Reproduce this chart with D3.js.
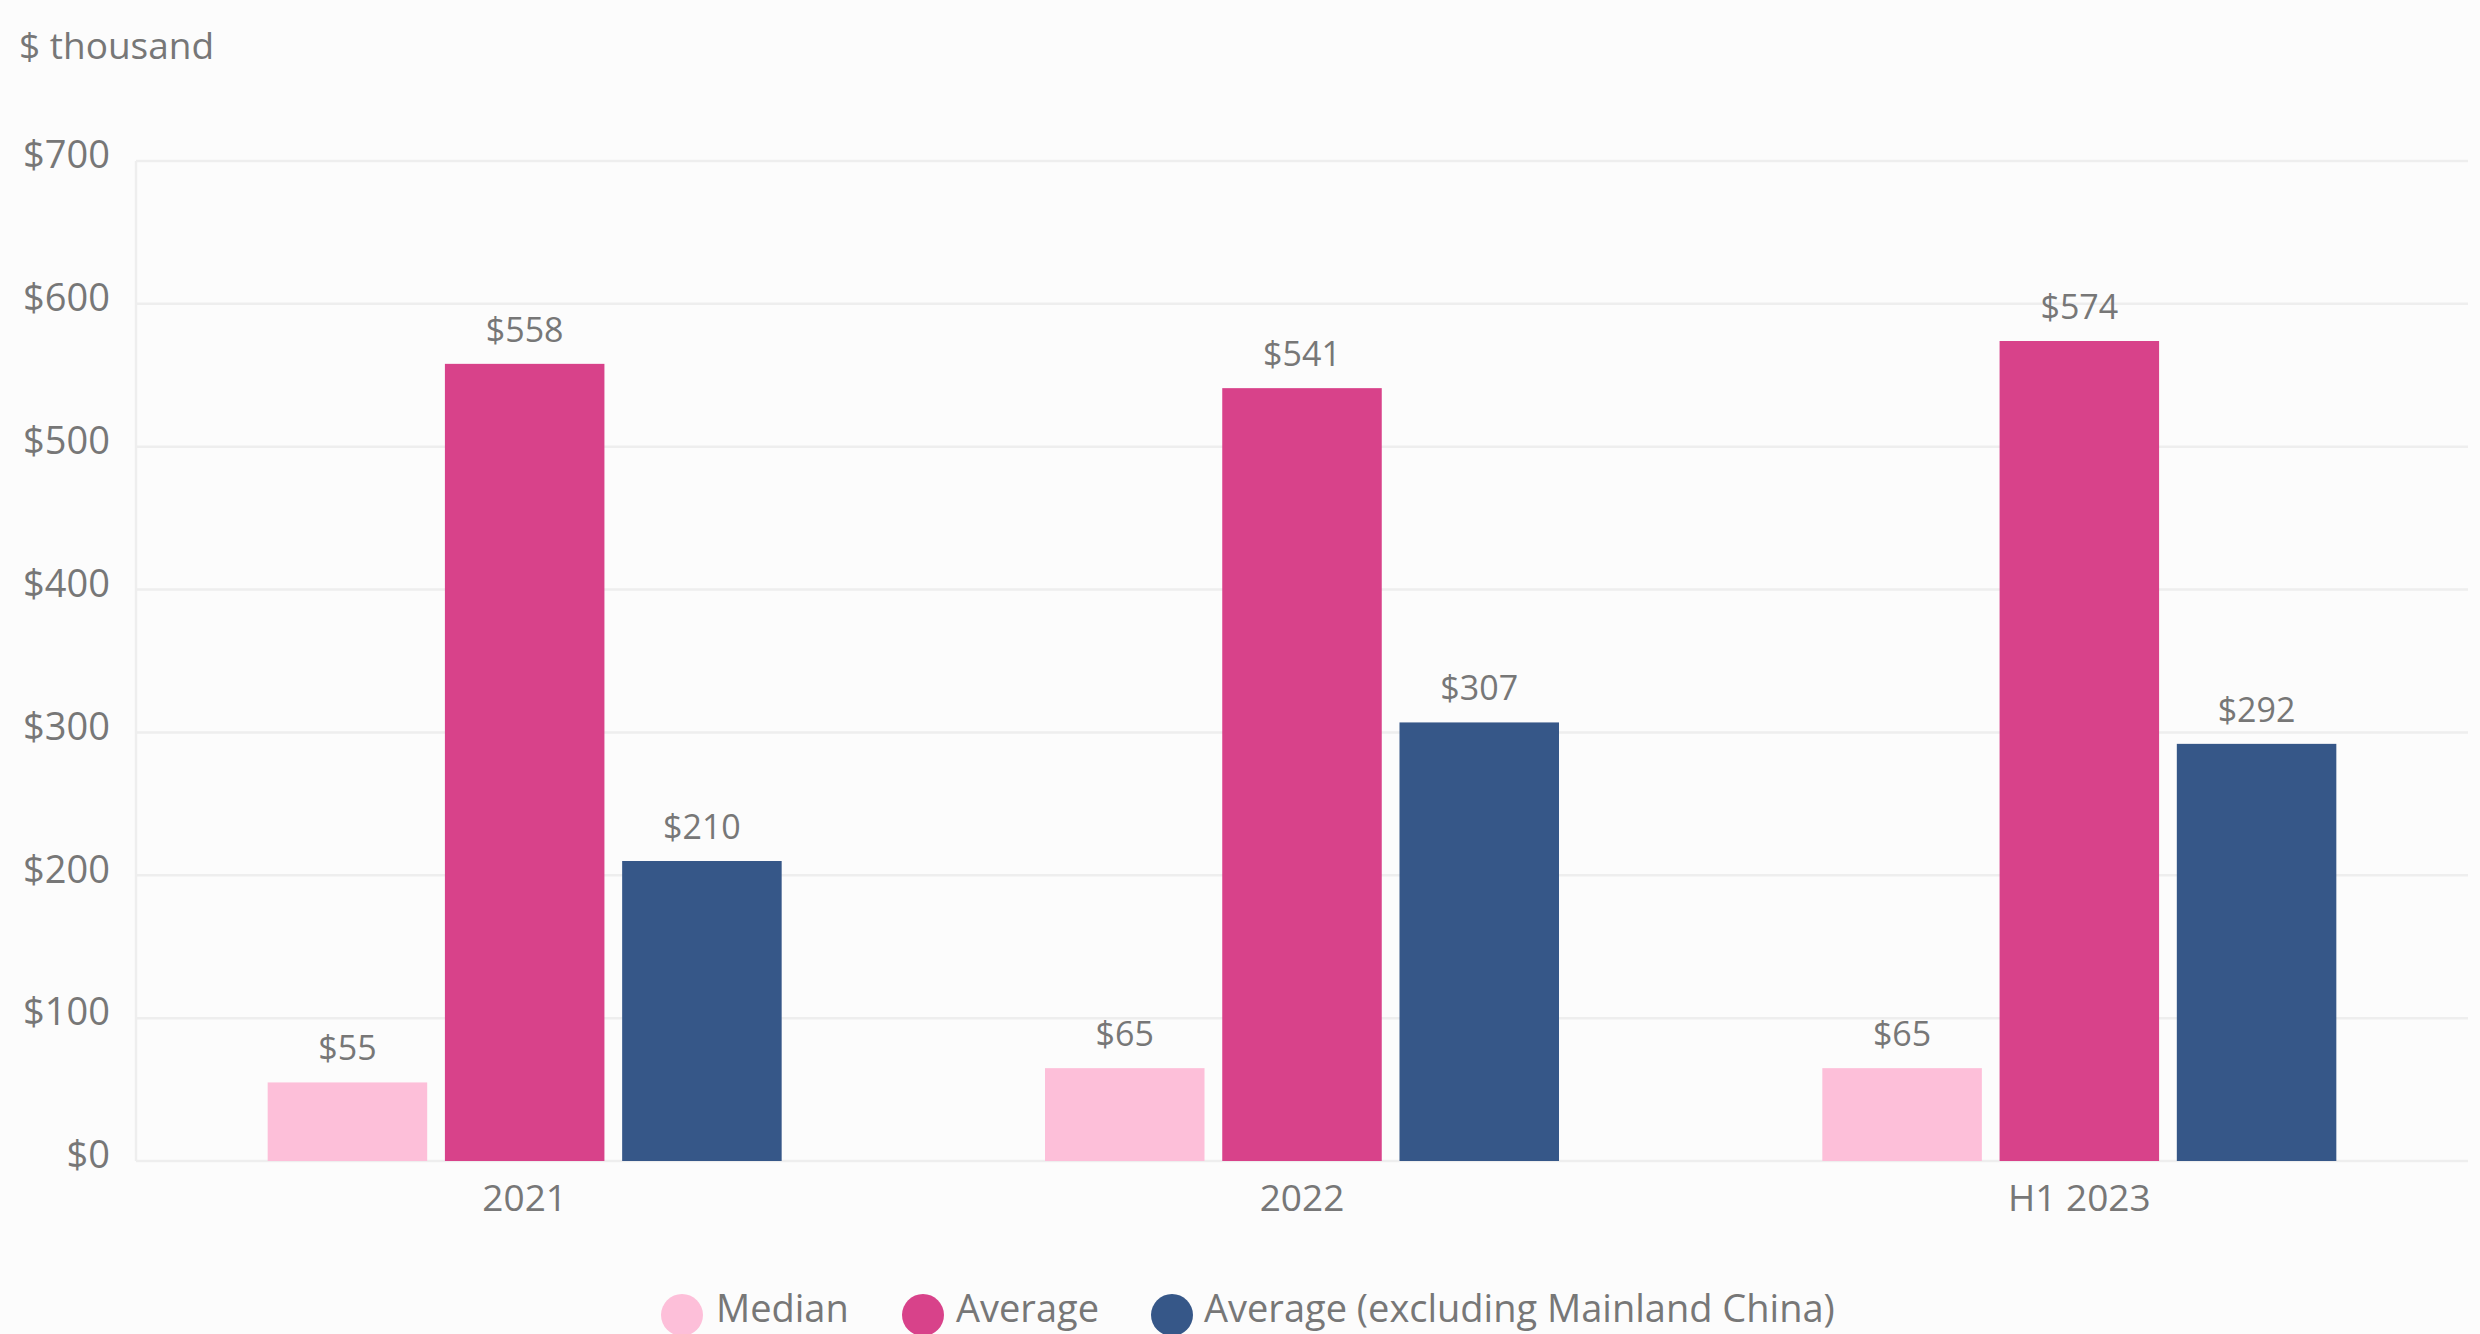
<!DOCTYPE html>
<html>
<head>
<meta charset="utf-8">
<script src="https://cdn.jsdelivr.net/npm/d3@7"></script>
<style>
  html, body { margin: 0; padding: 0; background: #fcfcfc; }
  svg { display: block; }
  text { font-family: "Open Sans", "Noto Sans", sans-serif; fill: #777777; }
</style>
</head>
<body>
<script>
const categories = ["2021", "2022", "H1 2023"];
const seriesNames = ["Median", "Average", "Average (excluding Mainland China)"];
const medianValues = [55, 65, 65];
const averageValues = [558, 541, 574];
const averageExChinaValues = [210, 307, 292];
const yTicks = [0, 100, 200, 300, 400, 500, 600, 700];
const colors = ["#fdbfd9", "#d8428a", "#365788"];
const unitLabel = "$ thousand";

const seriesValues = [medianValues, averageValues, averageExChinaValues];
const data = categories.map((c, i) => ({
  category: c,
  values: seriesNames.map((s, j) => ({ series: s, value: seriesValues[j][i] }))
}));

const W = 2480, H = 1334;
const plotLeft = 136, plotRight = 2468, plotTop = 161, plotBottom = 1161;

const svg = d3.select("body").append("svg").attr("width", W).attr("height", H);
svg.append("rect").attr("width", W).attr("height", H).attr("fill", "#fcfcfc");

const y = d3.scaleLinear().domain([0, 700]).range([plotBottom, plotTop]);
const x0 = d3.scaleBand().domain(categories).range([plotLeft, plotRight]).padding(0);
const bw = x0.bandwidth();
const groupW = 514;
const x1 = d3.scaleBand().domain(seriesNames)
  .range([(bw - groupW) / 2, (bw + groupW) / 2]).paddingInner(0.1).paddingOuter(0);
const color = d3.scaleOrdinal().domain(seriesNames).range(colors);

// gridlines
svg.append("g").selectAll("line").data(yTicks).join("line")
  .attr("x1", plotLeft).attr("x2", plotRight)
  .attr("y1", d => y(d)).attr("y2", d => y(d))
  .attr("stroke", "#eeeeee").attr("stroke-width", 2.5);
// left axis line
svg.append("line").attr("x1", plotLeft).attr("x2", plotLeft).attr("y1", plotTop).attr("y2", plotBottom)
  .attr("stroke", "#eeeeee").attr("stroke-width", 2.5);

// y axis labels
const yAxis = d3.axisLeft(y).tickValues(yTicks).tickSize(0).tickPadding(0)
  .tickFormat(d => "$" + d);
const gy = svg.append("g").attr("transform", `translate(110,0)`).call(yAxis);
gy.select(".domain").remove();
gy.selectAll("text").attr("font-size", 38).attr("fill", "#777")
  .attr("font-family", '"Open Sans", sans-serif').attr("dy", "0.18em").attr("x", 0);

// unit label
svg.append("text").attr("x", 19).attr("y", 59).attr("font-size", 37).text(unitLabel);

// bars
const groups = svg.append("g").selectAll("g").data(data).join("g")
  .attr("transform", d => `translate(${x0(d.category)},0)`);
groups.selectAll("rect").data(d => d.values).join("rect")
  .attr("x", d => x1(d.series)).attr("width", x1.bandwidth())
  .attr("y", d => y(d.value)).attr("height", d => y(0) - y(d.value))
  .attr("fill", d => color(d.series));
groups.selectAll("text.val").data(d => d.values).join("text").attr("class", "val")
  .attr("x", d => x1(d.series) + x1.bandwidth() / 2)
  .attr("y", d => y(d.value) - 22)
  .attr("text-anchor", "middle").attr("font-size", 34)
  .text(d => "$" + d.value);

// x axis labels
const xAxis = d3.axisBottom(x0).tickSize(0).tickPadding(0);
const gx = svg.append("g").attr("transform", `translate(0,${plotBottom})`).call(xAxis);
gx.select(".domain").remove();
gx.selectAll("text").attr("font-size", 37).attr("fill", "#777")
  .attr("font-family", '"Open Sans", sans-serif').attr("dy", null).attr("y", 50);

// legend
const legendItems = [
  { name: seriesNames[0], cx: 682, tx: 716 },
  { name: seriesNames[1], cx: 923, tx: 956 },
  { name: seriesNames[2], cx: 1172, tx: 1204 }
];
const lg = svg.append("g");
lg.selectAll("circle").data(legendItems).join("circle")
  .attr("cx", d => d.cx).attr("cy", 1315).attr("r", 21)
  .attr("fill", d => color(d.name));
lg.selectAll("text").data(legendItems).join("text")
  .attr("x", d => d.tx).attr("y", 1322).attr("font-size", 38)
  .text(d => d.name);
</script>
</body>
</html>
